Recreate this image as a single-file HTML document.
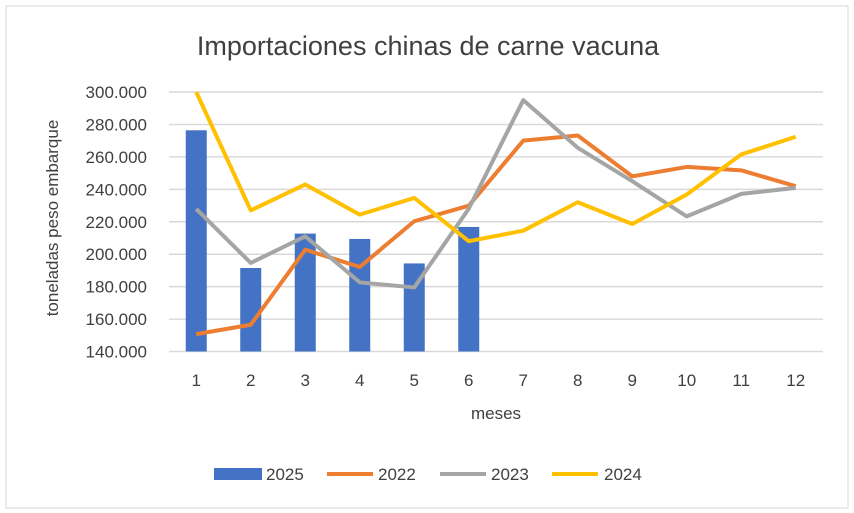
<!DOCTYPE html>
<html><head><meta charset="utf-8"><style>
body{margin:0;background:#fff;}
svg{display:block;font-family:"Liberation Sans",sans-serif;}
</style></head><body>
<svg id="c" width="854" height="513">
<rect x="6" y="6" width="842" height="502" fill="#fff" stroke="#d9d9d9"/>
<text x="428" y="55" text-anchor="middle" font-size="27" fill="#404040">Importaciones chinas de carne vacuna</text>
<text transform="translate(58,218) rotate(-90)" text-anchor="middle" font-size="17" fill="#404040">toneladas peso embarque</text>
<text x="496" y="419" text-anchor="middle" font-size="17" fill="#404040">meses</text>
<g id="grid"></g><g id="bars"></g><g id="lines"></g><g id="ticks"></g>
<g>
<rect x="214" y="468" width="48" height="12" fill="#4472c4"/>
<text x="266" y="480" font-size="17" fill="#404040">2025</text>
<line x1="327" y1="474" x2="373" y2="474" stroke="#ed7d31" stroke-width="4"/>
<text x="378" y="480" font-size="17" fill="#404040">2022</text>
<line x1="440" y1="474" x2="486" y2="474" stroke="#a5a5a5" stroke-width="4"/>
<text x="491" y="480" font-size="17" fill="#404040">2023</text>
<line x1="552" y1="474" x2="598" y2="474" stroke="#ffc000" stroke-width="4"/>
<text x="604" y="480" font-size="17" fill="#404040">2024</text>
</g>
</svg>
<script>
const categories=[1,2,3,4,5,6,7,8,9,10,11,12];
const yTicks=[140000,160000,180000,200000,220000,240000,260000,280000,300000];
const yTickLabels=["140.000","160.000","180.000","200.000","220.000","240.000","260.000","280.000","300.000"];
const s2025=[276400,191500,212700,209400,194300,216800];
const s2022=[150700,156500,202800,192100,220300,229900,270000,273200,248000,253800,251700,241900];
const s2023=[227900,194600,211000,182600,179500,228000,295000,265600,245000,223300,237200,240900];
const s2024=[300000,227000,243000,224400,234700,208000,214500,232000,218600,236800,261500,272400];
const NS="http://www.w3.org/2000/svg";
const L=169,R=823,T=92,B=351.5,ymin=140000,ymax=300000;
const bw=(R-L)/categories.length;
const x=i=>L+bw*(i+0.5);
const y=v=>B-(v-ymin)/(ymax-ymin)*(B-T);
function mk(t,a,p){const e=document.createElementNS(NS,t);for(const k in a)e.setAttribute(k,a[k]);p.appendChild(e);return e;}
const grid=document.getElementById('grid'),ticks=document.getElementById('ticks');
yTicks.forEach((v,i)=>{
 const g=mk('line',{x1:L,x2:R,y1:y(v),y2:y(v),stroke:'#d9d9d9','stroke-width':1.5},grid);
 
 
 const t=mk('text',{x:147,y:y(v)+6,'text-anchor':'end','font-size':17,fill:'#404040'},ticks);
 t.textContent=yTickLabels[i];
 
 
});
categories.forEach((c,i)=>{
 const t=mk('text',{x:x(i),y:386,'text-anchor':'middle','font-size':17,fill:'#404040'},ticks);
 t.textContent=c;
 
 
});
const bars=document.getElementById('bars');
s2025.forEach((v,i)=>{
 const r=mk('rect',{x:x(i)-10.5,y:y(v),width:21,height:B-y(v),fill:'#4472c4'},bars);
 
 
});
const lines=document.getElementById('lines');
[[s2022,'#ed7d31','2022'],[s2023,'#a5a5a5','2023'],[s2024,'#ffc000','2024']].forEach(([d,col,n])=>{
 const p=mk('polyline',{points:d.map((v,i)=>x(i)+','+y(v)).join(' '),fill:'none',stroke:col,'stroke-width':4,'stroke-linejoin':'round'},lines);
 
 
});
</script>
</body></html>
